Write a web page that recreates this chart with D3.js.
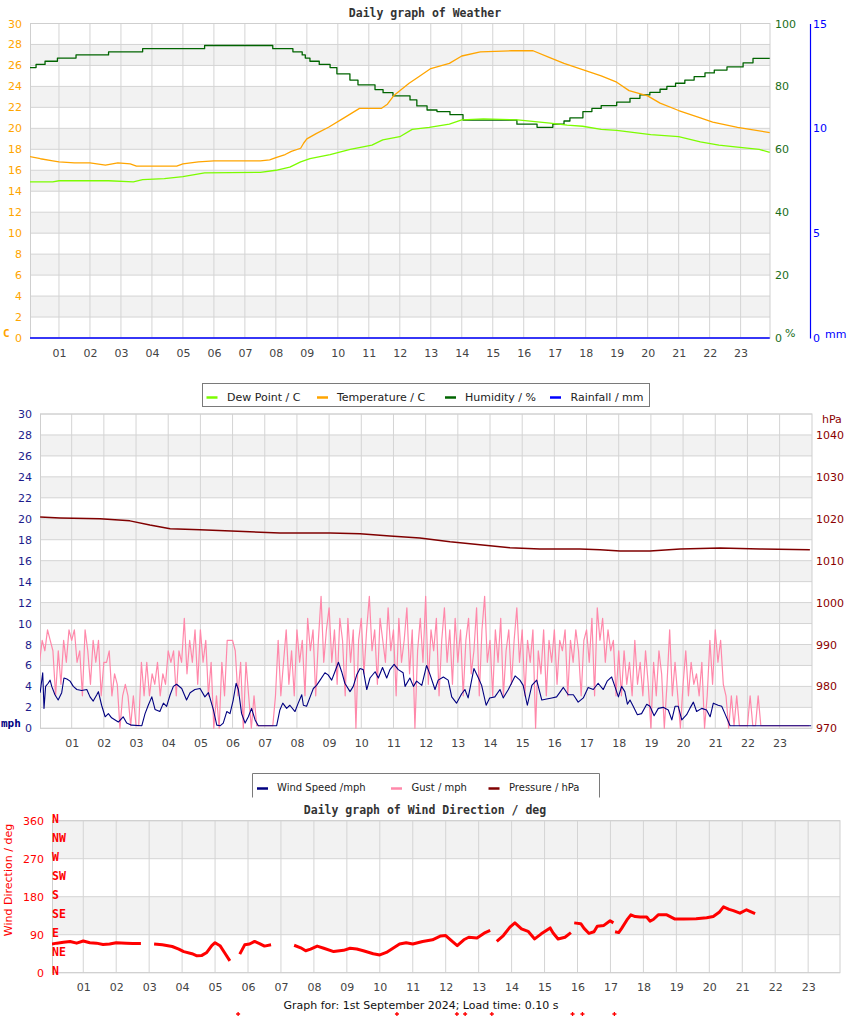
<!DOCTYPE html>
<html><head><meta charset="utf-8">
<script src="https://cdnjs.cloudflare.com/ajax/libs/d3/7.8.5/d3.min.js"></script>
<style>body{margin:0;background:#fff}svg{display:block}</style>
</head><body><svg id="c" width="850" height="1017"></svg>
<script>
// ---------------- DATA ----------------
const hourLabels = ['01','02','03','04','05','06','07','08','09','10','11','12','13','14','15','16','17','18','19','20','21','22','23'];
const tempTicks = [0,2,4,6,8,10,12,14,16,18,20,22,24,26,28,30];
const humTicks = [0,20,40,60,80,100];
const rainTicks = [0,5,10,15];
const mphTicks = [0,2,4,6,8,10,12,14,16,18,20,22,24,26,28,30];
const hpaTicks = [970,980,990,1000,1010,1020,1030,1040];
const degTicks = [0,90,180,270,360];
const compassLabels = ['N','NE','E','SE','S','SW','W','NW','N'];

// Temperature (C)
const tempHours = [0.06,0.4,0.8,1.0,1.5,2.0,2.5,2.9,3.3,3.5,4.8,5.0,5.5,6.0,7.5,7.8,8.0,8.3,8.5,8.8,8.9,9.0,9.3,9.7,10.2,10.7,11.4,11.6,11.8,12.3,12.6,13.0,13.6,14.0,14.6,15.6,16.3,16.8,17.3,17.9,18.5,19.0,19.4,20.0,20.4,21.0,21.7,22.1,22.9,23.3,23.94];
const tempC = [17.3,17.1,16.9,16.8,16.7,16.7,16.5,16.7,16.6,16.4,16.4,16.6,16.8,16.9,16.9,17.0,17.2,17.5,17.8,18.1,18.6,19.0,19.5,20.1,21.0,21.9,21.9,22.3,23.1,24.3,24.9,25.7,26.2,26.9,27.3,27.4,27.4,26.8,26.2,25.6,25.0,24.4,23.6,23.1,22.4,21.7,21.0,20.6,20.1,19.9,19.6];
// Dew point (C)
const dewHours = [0.06,0.8,1.0,2.6,3.4,3.7,4.4,5.0,5.7,7.5,8.0,8.45,8.8,9.1,9.75,10.4,11.1,11.45,12.0,12.4,12.95,13.6,14.0,14.7,15.8,16.85,17.4,17.9,18.5,19.0,20.1,21.0,21.7,22.3,22.9,23.6,23.94];
const dewC = [14.9,14.9,15.0,15.0,14.9,15.1,15.2,15.4,15.75,15.8,16.0,16.3,16.8,17.1,17.5,18.0,18.4,18.9,19.2,19.9,20.1,20.4,20.8,20.9,20.8,20.5,20.3,20.2,19.9,19.8,19.4,19.2,18.7,18.4,18.2,18.0,17.7];
// Humidity (%)
const humHours = [0.06,0.26,0.55,0.95,1.55,2.6,3.7,5.7,7.9,8.55,8.85,8.95,9.1,9.4,9.75,9.97,10.39,10.65,11.2,11.46,11.78,12.33,12.55,12.88,13.2,13.62,14.04,14.9,15.78,16.43,16.94,17.3,17.49,17.91,18.2,18.5,19.0,19.43,19.75,20.07,20.4,20.62,20.9,21.2,21.5,21.85,22.15,22.56,23.08,23.4,23.94];
const humPct = [86,87,88,89,90,91,92,93,92,91,90,89,88,87,86,84,82,80.5,79,78,77,75.7,73.8,72.5,72,71,69.3,69.3,68,67,68,69,70,72,73,73.9,75,76.2,77.3,78.1,79.1,80,81,82,83.1,84.3,85.2,86.2,87.5,88.9,88.9];
// Rainfall (mm)
const rainHours = [0.06,23.94];
const rainMm = [0,0];

// Wind speed (mph)
const windHours = [0.02,0.10,0.14,0.19,0.27,0.33,0.38,0.48,0.58,0.69,0.76,0.85,0.95,1.05,1.16,1.31,1.47,1.57,1.67,1.78,1.83,1.93,2.04,2.14,2.24,2.35,2.45,2.60,2.71,2.86,3.18,3.28,3.38,3.49,3.59,3.74,3.85,3.95,4.06,4.16,4.26,4.42,4.57,4.68,4.83,4.99,5.14,5.25,5.40,5.51,5.62,5.71,5.82,5.92,6.02,6.11,6.18,6.28,6.39,6.49,6.59,6.70,6.80,7.37,7.47,7.56,7.68,7.78,7.94,8.04,8.15,8.20,8.30,8.41,8.51,8.61,8.72,8.87,8.97,9.08,9.18,9.29,9.39,9.49,9.65,9.75,9.86,9.96,10.06,10.17,10.27,10.43,10.53,10.66,10.79,10.89,11.02,11.15,11.30,11.36,11.51,11.62,11.72,11.88,12.03,12.14,12.29,12.39,12.55,12.70,12.81,12.96,13.12,13.22,13.32,13.50,13.64,13.74,13.88,13.99,14.15,14.31,14.41,14.57,14.78,14.93,15.03,15.16,15.30,15.45,15.61,15.76,15.92,16.07,16.28,16.43,16.59,16.74,16.90,17.05,17.21,17.36,17.52,17.64,17.78,17.88,17.99,18.09,18.19,18.27,18.35,18.45,18.58,18.71,18.87,18.97,19.10,19.23,19.38,19.54,19.65,19.75,19.85,19.96,20.11,20.21,20.32,20.42,20.58,20.73,20.84,20.94,21.09,21.20,21.30,21.46,23.98];
const windMph = [3.4,5.3,1.9,4.0,4.3,4.6,4.0,3.2,2.7,3.4,4.8,4.7,4.5,4.0,3.7,3.6,3.7,3.0,2.6,3.2,3.5,2.2,1.1,1.4,1.0,0.8,0.6,1.1,0.5,0.3,0.25,1.4,2.2,3.0,1.8,1.6,2.4,2.1,3.2,4.0,4.2,3.8,2.7,3.4,3.7,3.8,3.0,3.4,1.8,0.3,0.25,0.5,1.6,1.4,2.7,4.3,3.7,1.4,0.5,1.1,1.9,0.8,0.25,0.25,1.75,2.4,1.9,2.2,1.6,2.4,3.2,2.2,2.1,3.0,3.8,4.1,4.6,5.3,5.1,4.6,5.4,6.3,5.4,4.3,3.5,4.0,5.1,5.7,5.6,3.7,4.8,5.4,4.8,5.8,4.8,5.6,6.1,5.6,5.3,4.0,4.8,4.0,4.5,4.1,6.0,5.1,3.7,4.6,4.9,4.6,3.0,2.4,3.3,3.7,2.9,5.7,4.8,4.1,2.2,2.9,3.0,3.7,2.9,3.7,5.0,4.6,4.1,2.2,4.1,4.6,2.7,2.8,2.9,3.0,3.9,3.2,3.2,2.5,2.9,3.9,3.7,4.3,3.7,4.5,4.9,4.0,3.0,4.0,3.5,2.3,2.7,2.1,1.3,1.4,2.3,2.1,1.2,1.9,2.0,1.75,0.8,2.1,2.1,0.8,1.3,1.9,2.5,1.6,1.9,1.75,1.1,2.4,2.2,2.1,1.4,0.25,0.25];
// Gust (mph), one reading every 5 minutes from 00:00
const gustMph = [
 6.3,8.4,7.4,9.4,8.4,7.4,3.1,7.4,4.2,8.4,6.3,9.4,
 8.4,9.4,6.3,7.4,3.1,9.4,7.4,4.2,8.4,6.3,8.4,3.1,
 6.3,6.3,7.4,3.1,5.2,4.2,0,3.1,4.2,3.1,0.25,3.1,
 0.25,0.25,6.3,3.1,6.3,3.1,5.2,4.2,6.3,3.1,5.2,4.2,
 7.4,6.3,7.4,3.1,7.4,6.3,10.5,5.2,8.4,6.3,9.4,4.2,
 9.4,6.3,8.4,3.1,6.3,0,3.1,0,6.3,3.1,8.4,8.4,
 8.4,7.4,3.1,6.3,0,6.3,3.1,0,3.1,0.25,0.25,0.25,
 0.25,0.25,0.25,0.25,3.1,8.4,3.1,6.3,9.4,4.2,7.4,3.1,
 9.4,6.3,8.4,3.1,10.5,7.4,9.4,3.1,8.4,12.6,6.3,9.4,
 11.5,6.3,9.4,4.2,10.5,8.4,3.1,10.5,6.3,9.4,0,8.4,
 10.5,5.2,9.4,12.6,7.4,9.4,4.2,10.5,8.4,6.3,11.5,7.4,
 9.4,3.1,10.5,6.3,8.4,11.5,5.2,9.4,0,7.4,10.5,6.3,
 12.6,4.2,9.4,7.4,10.5,3.1,8.4,11.5,6.3,9.4,4.2,10.5,
 6.3,9.4,3.1,8.4,10.5,5.2,7.4,11.5,3.1,9.4,12.6,6.3,
 8.4,3.1,9.4,6.3,10.5,3.1,7.4,9.4,4.2,8.4,11.5,6.3,
 9.4,3.1,8.4,6.3,9.4,0,7.4,5.2,9.4,3.1,8.4,6.3,
 9.4,4.2,8.4,7.4,9.4,3.1,8.4,6.3,9.4,7.4,3.1,8.4,
 9.4,6.3,10.5,3.1,11.5,8.4,10.5,6.3,9.4,7.4,8.4,3.1,
 7.4,3.1,7.4,4.2,6.3,3.1,8.4,4.2,6.3,3.1,7.4,4.2,
 0,6.3,3.1,7.4,5.2,0,4.2,9.4,3.1,6.3,3.1,0,
 4.2,7.4,3.1,6.3,4.2,5.2,3.1,6.3,0,3.1,8.4,4.2,
 9.4,6.3,8.4,4.2,3.1,0,3.1,0.25,3.1,0.25,0.25,0.25,
 0.25,3.1,0.25,0.25,3.1,0.25,0.25,0.25,0.25,0.25,0.25,0.25,
 0.25,0.25,0.25,0.25,0.25,0.25,0.25,0.25,0.25,0.25,0.25,0.25];
// Pressure (hPa)
const presHours = [0.02,0.64,1.88,2.81,3.43,4.06,4.99,6.54,7.47,9.03,9.96,10.89,11.82,12.76,13.69,14.62,15.55,16.79,17.42,18.04,18.97,19.91,21.15,22.4,23.94];
const presHpa = [1020.4,1020.2,1020.0,1019.5,1018.5,1017.6,1017.4,1016.9,1016.6,1016.6,1016.4,1015.9,1015.4,1014.5,1013.8,1013.1,1012.8,1012.8,1012.6,1012.3,1012.3,1012.8,1013.0,1012.8,1012.6];

// Wind direction (deg), null = no reading
const dirHours = [0.05,0.2,0.4,0.6,0.8,1.0,1.2,1.4,1.6,1.8,2.0,2.3,2.5,2.75,2.9,3.15,3.4,3.7,3.9,4.05,4.3,4.45,4.6,4.75,4.9,5.0,5.15,5.3,5.45,5.6,5.75,5.9,6.05,6.2,6.35,6.5,6.7,7.0,7.4,7.6,7.75,7.9,8.1,8.3,8.6,8.9,9.1,9.3,9.5,9.8,10.0,10.2,10.4,10.6,10.8,11.0,11.3,11.6,11.85,12.0,12.2,12.35,12.55,12.7,12.95,13.2,13.35,13.45,13.55,13.75,13.95,14.1,14.3,14.5,14.7,14.9,15.17,15.26,15.41,15.62,15.8,15.85,15.9,16.1,16.2,16.35,16.5,16.6,16.8,16.99,17.09,17.12,17.14,17.25,17.34,17.5,17.62,17.75,17.9,18.1,18.2,18.3,18.45,18.71,18.96,19.21,19.6,19.92,20.12,20.3,20.43,20.6,20.73,20.93,21.13,21.39];
const dirDeg = [68,70,72,74,70,75,71,70,67,68,71,70,69,69,null,68,66,62,56,50,45,40,41,48,64,71,64,46,28,null,44,66,68,74,69,63,66,null,65,59,52,56,63,58,50,53,58,56,52,45,42,48,58,68,71,68,74,78,87,88,74,64,78,84,82,95,100,null,74,88,108,118,104,98,80,92,106,94,80,84,95,null,118,116,105,93,97,110,112,123,118,null,97,95,105,125,137,133,132,132,122,126,137,137,127,127,128,130,133,143,156,150,147,141,149,140];
// Readings plotted below the chart (out of range)
const strayHours = [5.7,10.52,12.34,12.59,13.4,15.85,16.15,17.12];

// ---------------- DRAWING ----------------
const svg = d3.select('#c');
const SANS = 'DejaVu Sans, sans-serif';
const MONO = 'DejaVu Sans Mono, monospace';
const GRID = '#d4d4d4', BAND = '#f2f2f2', TICK = '#444';
const hourVals = hourLabels.map(Number);
let clipId = 0;

function panel(x, y, L, R, T, B, gridVals, bands) {
  const g = svg.append('g');
  g.append('rect').attr('x', L).attr('y', T).attr('width', R - L).attr('height', B - T).attr('fill', '#fff');
  g.selectAll('rect.band').data(bands).join('rect').attr('class', 'band')
    .attr('x', L).attr('width', R - L).attr('y', d => y(d[1])).attr('height', d => y(d[0]) - y(d[1])).attr('fill', BAND);
  g.selectAll('line.h').data(gridVals).join('line').attr('class', 'h')
    .attr('x1', L).attr('x2', R).attr('y1', d => y(d)).attr('y2', d => y(d)).attr('stroke', GRID);
  g.selectAll('line.v').data(hourVals).join('line').attr('class', 'v')
    .attr('x1', d => x(d)).attr('x2', d => x(d)).attr('y1', T).attr('y2', B).attr('stroke', GRID);
  g.append('rect').attr('x', L + 0.5).attr('y', T).attr('width', R - L - 0.5).attr('height', B - T)
    .attr('fill', 'none').attr('stroke', '#cfcfcf');
  const id = 'clip' + (clipId++);
  svg.append('clipPath').attr('id', id).append('rect').attr('x', L).attr('y', T - 2).attr('width', R - L).attr('height', B - T + 4);
  return id;
}
function styleAxis(sel, color, size) {
  sel.select('.domain').remove();
  sel.attr('font-family', SANS).attr('font-size', size || 11);
  sel.selectAll('text').attr('fill', color);
}
function xAxis(x, B, pad) {
  svg.append('g').attr('transform', `translate(0,${B})`)
    .call(d3.axisBottom(x).tickValues(hourVals).tickFormat((d, i) => hourLabels[i]).tickSize(0).tickPadding(pad))
    .call(s => styleAxis(s, TICK, 11));
}
function series(clip, xs, ys, x, y, color, w, curve) {
  const pts = xs.map((h, i) => [h, ys[i]]);
  svg.append('path').attr('clip-path', `url(#${clip})`).datum(pts)
    .attr('fill', 'none').attr('stroke', color).attr('stroke-width', w).attr('stroke-linejoin', 'round')
    .attr('d', d3.line().defined(d => d[1] != null).x(d => x(d[0])).y(d => y(d[1])).curve(curve || d3.curveLinear));
}
function legend(items, box, fontSize, openBottom) {
  const g = svg.append('g');
  if (openBottom) {
    g.append('path').attr('d', `M${box.x},${box.y + box.h} V${box.y} H${box.x + box.w} V${box.y + box.h}`)
      .attr('fill', '#fff').attr('stroke', '#7a7a7a');
  } else {
    g.append('rect').attr('x', box.x).attr('y', box.y).attr('width', box.w).attr('height', box.h)
      .attr('fill', '#fff').attr('stroke', '#7a7a7a');
  }
  items.forEach(it => {
    g.append('line').attr('x1', it.sx).attr('x2', it.sx + 11).attr('y1', it.sy).attr('y2', it.sy)
      .attr('stroke', it.color).attr('stroke-width', 2.5);
    g.append('text').attr('x', it.tx).attr('y', it.ty).attr('font-family', SANS).attr('font-size', fontSize)
      .attr('fill', '#222').text(it.label);
  });
}
function title(txt, cx, y) {
  svg.append('text').attr('x', cx).attr('y', y).attr('text-anchor', 'middle')
    .attr('font-family', MONO).attr('font-weight', 'bold').attr('font-size', 11.5).attr('fill', '#333').text(txt);
}

// ===== Chart 1: Weather =====
{
  const L = 30, R = 770, T = 23.5, B = 338;
  const x = d3.scaleLinear().domain([0, 24]).range([28, 771.6]);
  const yT = d3.scaleLinear().domain([0, 30]).range([B, T]);
  const yH = d3.scaleLinear().domain([0, 100]).range([B, T]);
  const yR = d3.scaleLinear().domain([0, 15]).range([B, T]);
  const bands = tempTicks.filter((v, i) => i % 2 === 1 && v < 30).map(v => [v, v + 2]);
  const clip = panel(x, yT, L, R, T, B, tempTicks, bands);
  title('Daily graph of Weather', 425, 17);

  svg.append('g').attr('transform', `translate(${L},0)`)
    .call(d3.axisLeft(yT).tickValues(tempTicks).tickSize(0).tickPadding(8)).call(s => styleAxis(s, '#ffa500', 11));
  svg.append('g').attr('transform', `translate(${R},0)`)
    .call(d3.axisRight(yH).tickValues(humTicks).tickSize(0).tickPadding(5)).call(s => styleAxis(s, '#1a6e1a', 11));
  const rg = svg.append('g').attr('transform', 'translate(810,0)')
    .call(d3.axisRight(yR).tickValues(rainTicks).tickSize(0).tickPadding(3));
  rg.attr('font-family', SANS).attr('font-size', 11);
  rg.selectAll('text').attr('fill', '#0000ff');
  rg.select('.domain').attr('stroke', '#0000ff').attr('stroke-width', 1.2);
  xAxis(x, B, 11.5);

  svg.append('text').attr('x', 3).attr('y', 337).attr('font-family', MONO).attr('font-weight', 'bold')
    .attr('font-size', 11).attr('fill', '#ffa500').text('C');
  svg.append('text').attr('x', 785).attr('y', 337).attr('font-family', SANS)
    .attr('font-size', 11).attr('fill', '#1a6e1a').text('%');
  svg.append('text').attr('x', 825).attr('y', 338).attr('font-family', SANS)
    .attr('font-size', 11).attr('fill', '#0000ff').text('mm');

  series(clip, humHours, humPct, x, yH, '#006400', 1.3, d3.curveStepAfter);
  series(clip, tempHours, tempC, x, yT, '#ffa500', 1.3);
  series(clip, dewHours, dewC, x, yT, '#7cfc00', 1.3);
  series(clip, rainHours, rainMm, x, yR, '#0000ff', 1.6);
}

legend([
  { sx: 206.5, sy: 397.5, tx: 227, ty: 401, color: '#7cfc00', label: 'Dew Point / C' },
  { sx: 317, sy: 397.5, tx: 337, ty: 401, color: '#ffa500', label: 'Temperature / C' },
  { sx: 445, sy: 397.5, tx: 465, ty: 401, color: '#006400', label: 'Humidity / %' },
  { sx: 550, sy: 397.5, tx: 570.5, ty: 401, color: '#0000ff', label: 'Rainfall / mm' }
], { x: 202.5, y: 383.5, w: 447, h: 23 }, 11, false);

// ===== Chart 2: Wind / Pressure =====
{
  const L = 40, R = 812, T = 414, B = 728.3;
  const x = d3.scaleLinear().domain([0, 24]).range([39.5, 811.8]);
  const yM = d3.scaleLinear().domain([0, 30]).range([B, T]);
  const yP = d3.scaleLinear().domain([970, 1045]).range([B, T]);
  const bands = mphTicks.filter((v, i) => i % 2 === 1 && v < 30).map(v => [v, v + 2]);
  const clip = panel(x, yM, L, R, T, B, mphTicks, bands);

  svg.append('g').attr('transform', `translate(${L},0)`)
    .call(d3.axisLeft(yM).tickValues(mphTicks).tickSize(0).tickPadding(8)).call(s => styleAxis(s, '#1c1c8c', 11));
  svg.append('g').attr('transform', `translate(${R},0)`)
    .call(d3.axisRight(yP).tickValues(hpaTicks).tickFormat(d3.format('d')).tickSize(0).tickPadding(4))
    .call(s => styleAxis(s, '#8b0000', 11));
  xAxis(x, B, 11);
  svg.append('text').attr('x', 1).attr('y', 727).attr('font-family', MONO).attr('font-weight', 'bold')
    .attr('font-size', 11).attr('fill', '#000080').text('mph');
  svg.append('text').attr('x', 822).attr('y', 423).attr('font-family', SANS)
    .attr('font-size', 11).attr('fill', '#8b0000').text('hPa');

  const gustHours = gustMph.map((v, i) => i / 12);
  series(clip, gustHours, gustMph, x, yM, '#ff88aa', 1.2);
  series(clip, windHours, windMph, x, yM, '#000080', 1.1);
  series(clip, presHours, presHpa, x, yP, '#800000', 1.5);
}
legend([
  { sx: 257, sy: 788.5, tx: 277, ty: 791, color: '#000080', label: 'Wind Speed /mph' },
  { sx: 391, sy: 788.5, tx: 411.5, ty: 791, color: '#ff88aa', label: 'Gust / mph' },
  { sx: 488.5, sy: 788.5, tx: 509, ty: 791, color: '#800000', label: 'Pressure / hPa' }
], { x: 252.5, y: 773.5, w: 347, h: 24 }, 10, true);

// ===== Chart 3: Wind direction =====
{
  const L = 52, R = 840, T = 820.7, B = 972.7;
  const x = d3.scaleLinear().domain([0, 24]).range([50.3, 841.1]);
  const yD = d3.scaleLinear().domain([0, 360]).range([B, T]);
  svg.append('rect').attr('x', 0).attr('y', 799).attr('width', 850).attr('height', 18).attr('fill', '#fff');
  title('Daily graph of Wind Direction / deg', 425, 814);
  const clip = panel(x, yD, L, R, T, B, degTicks, [[90, 180], [270, 360]]);
  svg.append('g').attr('transform', `translate(${L},0)`)
    .call(d3.axisLeft(yD).tickValues(degTicks).tickSize(0).tickPadding(8)).call(s => styleAxis(s, '#ff0000', 11));
  xAxis(x, B, 10.5);
  svg.append('text').attr('transform', 'translate(12,880) rotate(-90)').attr('text-anchor', 'middle')
    .attr('font-family', SANS).attr('font-size', 11).attr('fill', '#ff0000').text('Wind Direction / deg');
  svg.append('g').selectAll('text').data(compassLabels).join('text')
    .attr('x', 52).attr('y', (d, i) => yD(i * 45) + 1.8)
    .attr('font-family', MONO).attr('font-weight', 'bold').attr('font-size', 11.5).attr('fill', '#ff0000').text(d => d);

  series(clip, dirHours, dirDeg, x, yD, '#ff0000', 3);
  svg.append('g').selectAll('path').data(strayHours).join('path')
    .attr('d', h => `M${x(h) - 2},1014 H${x(h) + 2} M${x(h)},1012 V1016`).attr('stroke', '#ff0000').attr('stroke-width', 1.3);

  svg.append('text').attr('x', 421).attr('y', 1009).attr('text-anchor', 'middle').attr('font-family', SANS)
    .attr('font-size', 11).attr('fill', '#111').text('Graph for: 1st September 2024; Load time: 0.10 s');
}
</script></body></html>
